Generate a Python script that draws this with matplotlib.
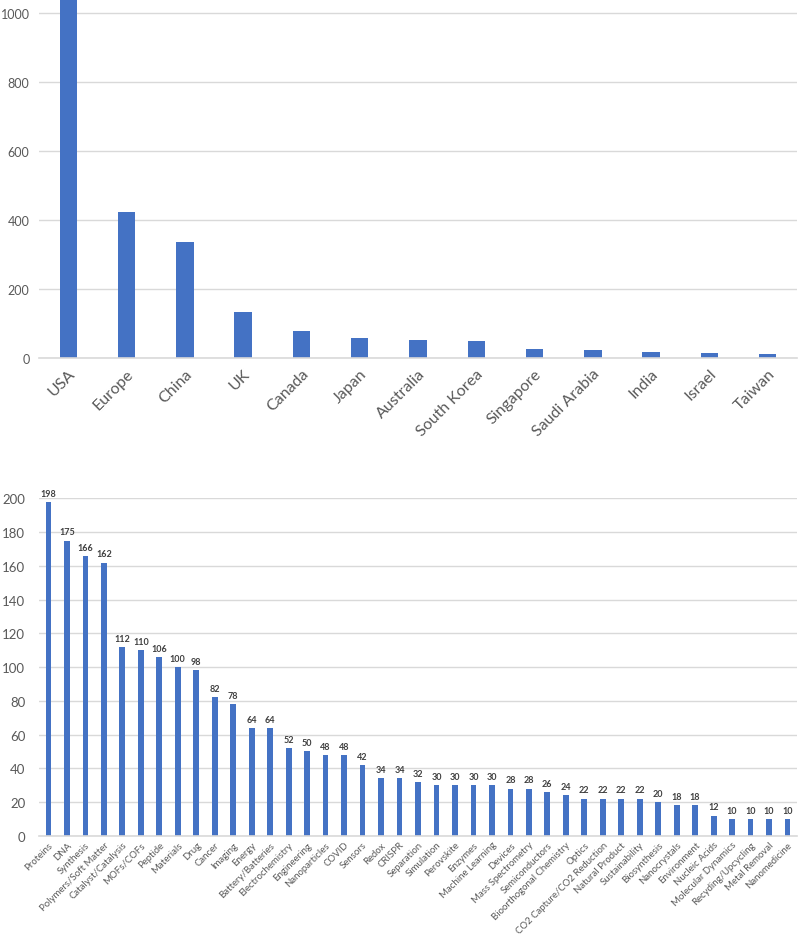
import matplotlib
matplotlib.use("Agg")
import matplotlib.pyplot as plt
import numpy as np

plt.rcParams['font.family'] = ['Lato', 'DejaVu Sans']

countries = ['USA', 'Europe', 'China', 'UK', 'Canada', 'Japan', 'Australia',
             'South Korea', 'Singapore', 'Saudi Arabia', 'India', 'Israel', 'Taiwan']
country_counts = [1040, 423, 337, 134, 77, 59, 51, 48, 27, 22, 17, 14, 10]

topics = ['Proteins', 'DNA', 'Synthesis', 'Polymers/Soft Matter', 'Catalyst/Catalysis',
          'MOFs/COFs', 'Peptide', 'Materials', 'Drug', 'Cancer', 'Imaging', 'Energy',
          'Battery/Batteries', 'Electrochemistry', 'Engineering', 'Nanoparticles', 'COVID',
          'Sensors', 'Redox', 'CRISPR', 'Separation', 'Simulation', 'Perovskite', 'Enzymes',
          'Machine Learning', 'Devices', 'Mass Spectrometry', 'Semiconductors',
          'Bioorthogonal Chemistry', 'Optics', 'CO2 Capture/CO2 Reduction', 'Natural Product',
          'Sustainability', 'Biosynthesis', 'Nanocrystals', 'Environment', 'Nucleic Acids',
          'Molecular Dynamics', 'Recyding/Upcycling', 'Metal Removal', 'Nanomedicine']
topic_counts = [198, 175, 166, 162, 112, 110, 106, 100, 98, 82, 78, 64, 64, 52, 50, 48, 48,
                42, 34, 34, 32, 30, 30, 30, 30, 28, 28, 26, 24, 22, 22, 22, 22, 20, 18, 18,
                12, 10, 10, 10, 10]

bar_color = '#4472C4'
grid_color = '#d9d9d9'
text_color = '#595959'

fig = plt.figure(figsize=(8, 9.37), dpi=100)


def style_axes(ax):
    for s in ['top', 'right', 'left']:
        ax.spines[s].set_visible(False)
    ax.spines['bottom'].set_color(grid_color)
    ax.spines['bottom'].set_linewidth(1.2)
    ax.yaxis.grid(True, color=grid_color, linewidth=1.0)
    ax.set_axisbelow(True)
    ax.tick_params(length=0, colors=text_color)


# top chart: countries
ax1 = fig.add_axes([0.049, 0.617, 0.947, 0.383])
x1 = np.arange(len(countries))
ax1.bar(x1, country_counts, width=0.3, color=bar_color)
ax1.set_xlim(-0.5, len(countries) - 0.5)
ax1.set_ylim(0, 1040)
ax1.set_yticks([0, 200, 400, 600, 800, 1000])
style_axes(ax1)
ax1.tick_params(axis='y', labelsize=9, pad=7)
ax1.set_xticks(x1)
ax1.set_xticklabels(countries, rotation=45, ha='right', rotation_mode='anchor',
                    fontsize=11.5, color=text_color)
ax1.tick_params(axis='x', pad=6)

# bottom chart: topics
ax2 = fig.add_axes([0.049, 0.107, 0.947, 0.360])
x2 = np.arange(len(topics))
bars = ax2.bar(x2, topic_counts, width=0.31, color=bar_color)
ax2.set_xlim(-0.5, len(topics) - 0.5)
ax2.set_ylim(0, 200)
ax2.set_yticks(range(0, 201, 20))
style_axes(ax2)
ax2.tick_params(axis='y', labelsize=9.5, pad=10)
ax2.set_xticks(x2)
ax2.set_xticklabels(topics, rotation=45, ha='right', rotation_mode='anchor',
                    fontsize=6.9, color=text_color)
ax2.tick_params(axis='x', pad=3)
for b, v in zip(bars, topic_counts):
    ax2.annotate(str(v), (b.get_x() + b.get_width() / 2, v), xytext=(0, 3),
                 textcoords='offset points', ha='center', va='bottom',
                 fontsize=6.5, fontweight='bold', color='#404040', annotation_clip=False)

fig.savefig('out.png', dpi=100, facecolor='white')
